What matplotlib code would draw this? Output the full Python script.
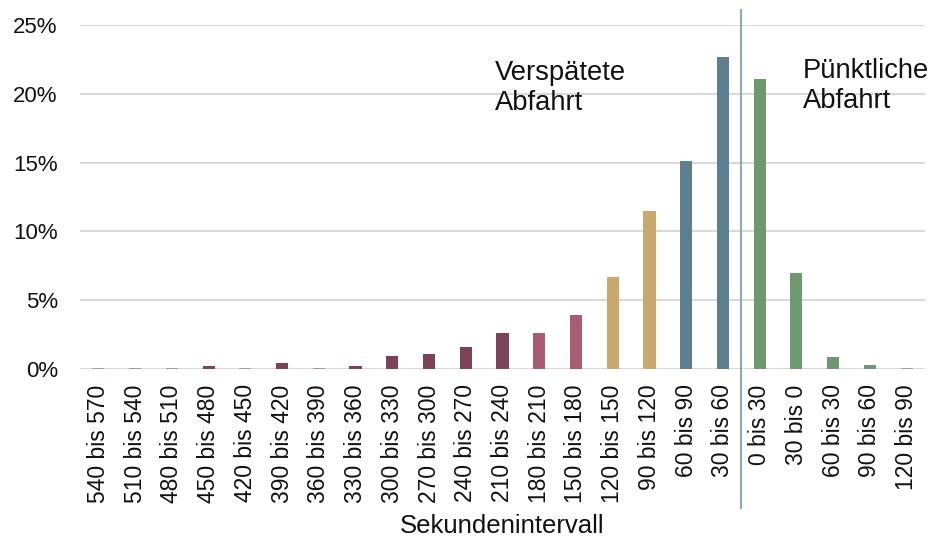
import matplotlib
matplotlib.use("Agg")
import matplotlib.pyplot as plt
import numpy as np

plt.rcParams['font.family'] = ['Liberation Sans', 'DejaVu Sans']

categories = ["540 bis 570", "510 bis 540", "480 bis 510", "450 bis 480", "420 bis 450",
              "390 bis 420", "360 bis 390", "330 bis 360", "300 bis 330", "270 bis 300",
              "240 bis 270", "210 bis 240", "180 bis 210", "150 bis 180", "120 bis 150",
              "90 bis 120", "60 bis 90", "30 bis 60", "0 bis 30", "30 bis 0",
              "60 bis 30", "90 bis 60", "120 bis 90"]
values = [0.1, 0.1, 0.1, 0.25, 0.1, 0.4, 0.1, 0.25, 0.97, 1.1, 1.58, 2.6, 2.6, 3.92,
          6.7, 11.5, 15.1, 22.7, 21.1, 7.0, 0.87, 0.3, 0.1]
groups = ["pale", "pale", "pale", "dark", "pale", "dark", "pale", "dark", "dark", "dark",
          "dark", "dark", "pink", "pink", "tan", "tan", "blue", "blue", "green", "green",
          "green", "green", "pale"]
yticks = [0, 5, 10, 15, 20, 25]

palette = {"pale": "#b8939f", "dark": "#7c4257", "pink": "#a85b71",
           "tan": "#c9a970", "blue": "#5e7d8f", "green": "#6e9870"}

fig = plt.figure(figsize=(9.33, 5.49), dpi=100)
ax = fig.add_axes([80/933, 1-369/549, (925-80)/933, (369-25)/549])

x = np.arange(len(categories))
ax.bar(x, values, width=0.33, color=[palette[g] for g in groups], zorder=3)

ax.set_xlim(-0.5, len(categories)-0.5)
ax.set_ylim(0, 25)
ax.set_yticks(yticks)
ax.set_yticklabels([f"{t}%" for t in yticks], fontsize=16, color="#111111")
ax.set_xticks(x)
ax.set_xticklabels(categories, rotation=90, fontsize=16.5, color="#111111")
ax.tick_params(length=0)
ax.tick_params(axis='x', pad=11)
ax.tick_params(axis='y', pad=16)
ax.grid(axis='y', color="#d9d9d9", linewidth=1.5, zorder=0)
for s in ax.spines.values():
    s.set_visible(False)
ax.axhline(0, color="#d9d9d9", linewidth=1.5, zorder=2)

ax.plot([17.5, 17.5], [26.1, -10.1], color="#8fa8b8", linewidth=1.5, clip_on=False, zorder=4)

ax.text(10.8, 22.45, "Verspätete\nAbfahrt", fontsize=19.7, va='top', ha='left',
        color="#111111", linespacing=1.2)
ax.text(19.18, 22.6, "Pünktliche\nAbfahrt", fontsize=19.7, va='top', ha='left',
        color="#111111", linespacing=1.2)

ax.set_xlabel("Sekundenintervall", fontsize=18.5, color="#111111", labelpad=8)

fig.savefig("out.png", dpi=100)
